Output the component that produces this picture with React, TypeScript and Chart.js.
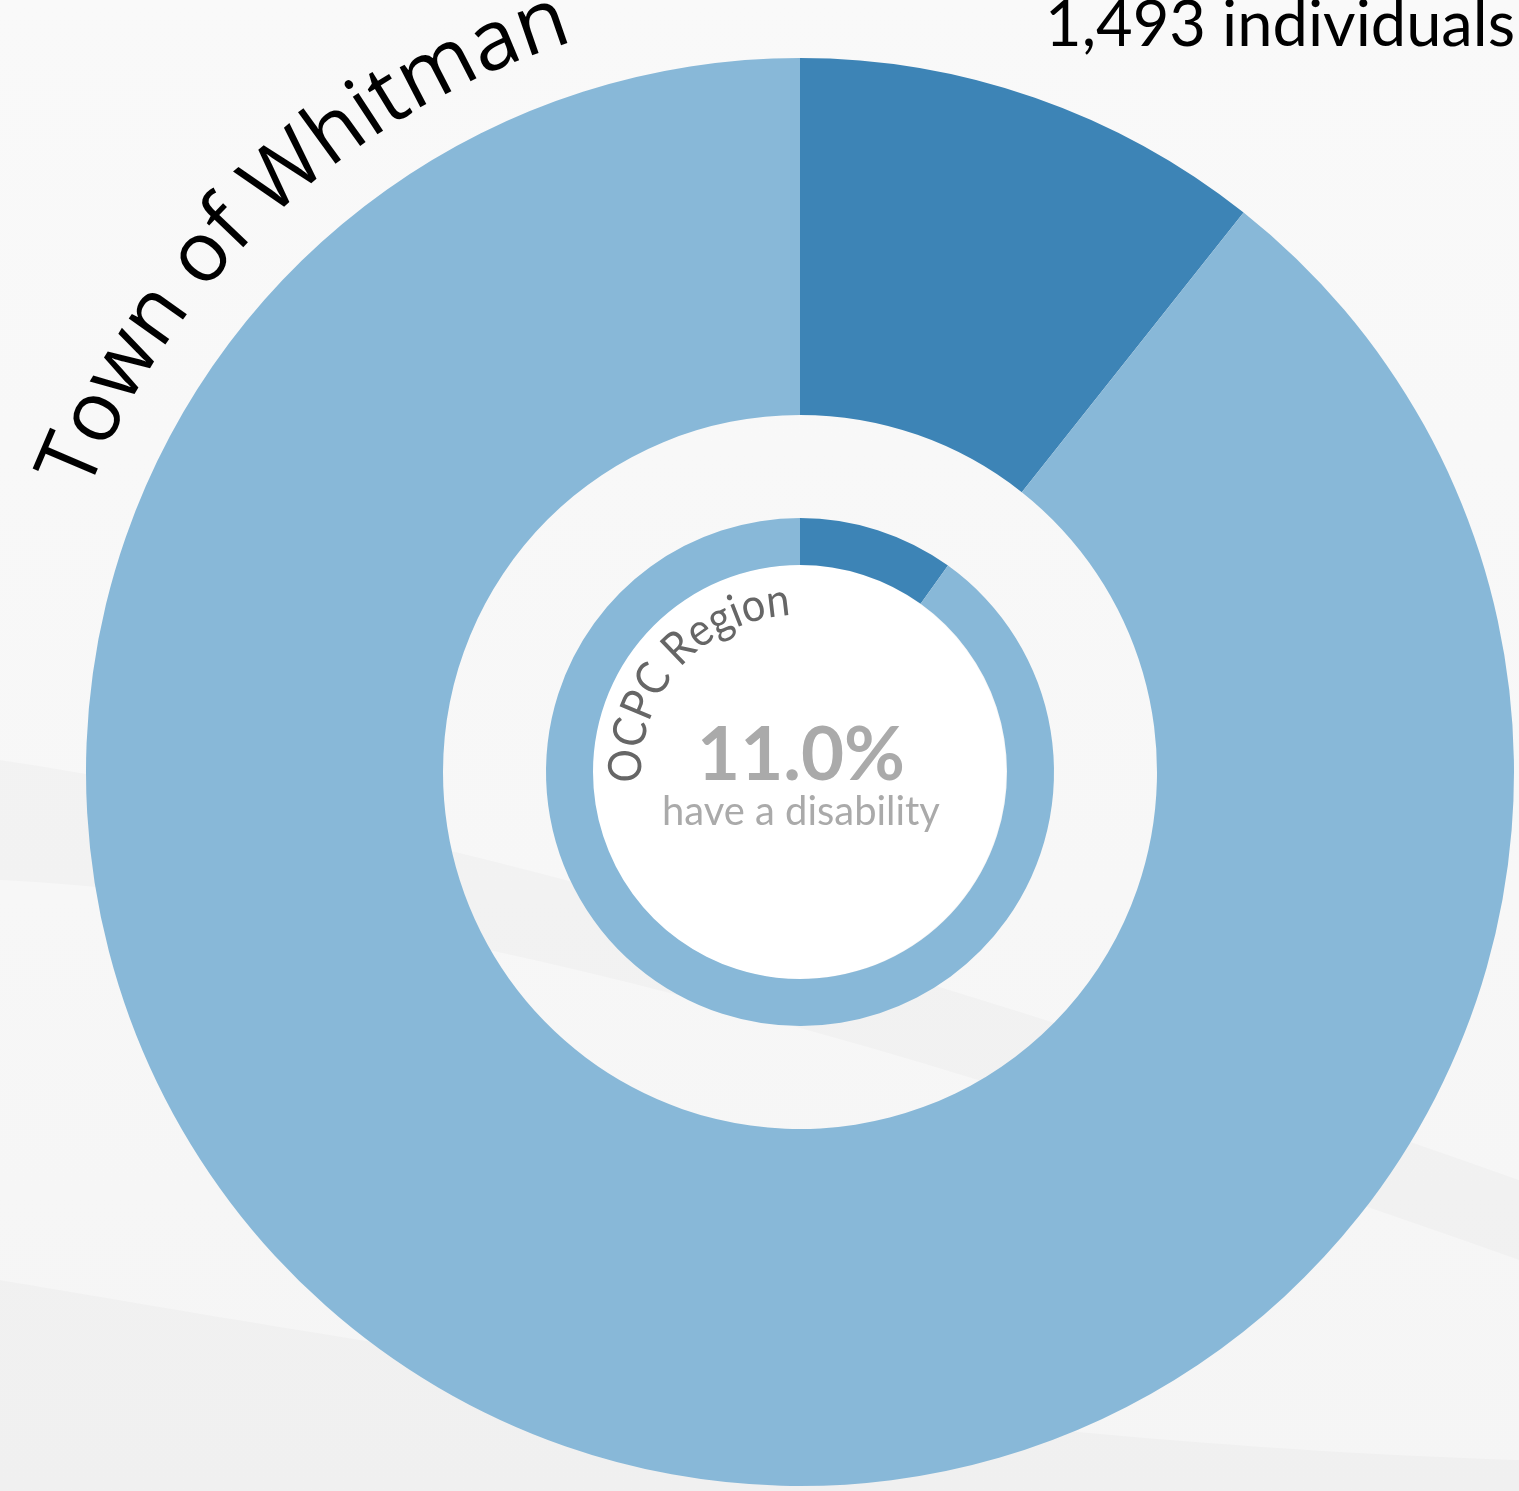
import React, { useEffect, useRef } from "react";
import { Chart, registerables } from "chart.js";

Chart.register(...registerables);

// ---- Data ----
const categories = ["With a disability", "Without a disability"];
const whitmanValues = [1493, 12500]; // Town of Whitman (individuals)
const regionValues = [9.9, 90.1]; // OCPC Region share (%)
const townLabel = "Town of Whitman";
const regionLabel = "OCPC Region";
const townCountLabel = "1,493 individuals";
const regionPctLabel = "11.0%";
const regionSubLabel = "have a disability";

const DARK = "#3d84b6";
const LIGHT = "#88b8d8";

function fitSize(ctx: CanvasRenderingContext2D, text: string, weight: string, family: string, target: number) {
  ctx.font = `${weight} 100px ${family}`;
  const w = ctx.measureText(text).width;
  return (100 * target) / w;
}

function drawArcText(
  ctx: CanvasRenderingContext2D,
  text: string,
  cx: number,
  cy: number,
  r: number,
  startDeg: number,
  endDeg: number,
  size: number,
  weight: string,
  family: string,
  color: string
) {
  const spanLen = (((endDeg - startDeg) * Math.PI) / 180) * r;
  ctx.save();
  ctx.font = `${weight} ${size}px ${family}`;
  const total = ctx.measureText(text).width;
  const sx = spanLen / total;
  ctx.fillStyle = color;
  ctx.textAlign = "center";
  ctx.textBaseline = "alphabetic";
  let acc = 0;
  const start = (startDeg * Math.PI) / 180;
  for (const ch of text) {
    const w = ctx.measureText(ch).width * sx;
    const th = start + (acc + w / 2) / r;
    ctx.save();
    ctx.translate(cx + r * Math.sin(th), cy - r * Math.cos(th));
    ctx.rotate(th);
    ctx.scale(sx, 1);
    ctx.fillText(ch, 0, 0);
    ctx.restore();
    acc += w;
  }
  ctx.restore();
}

const decorPlugin = {
  id: "decor",
  beforeDraw(chart: any) {
    const { ctx, width, height } = chart;
    ctx.save();
    const g = ctx.createLinearGradient(0, 0, 0, height);
    g.addColorStop(0, "#f9f9f9");
    g.addColorStop(0.6, "#f7f7f7");
    g.addColorStop(1, "#f5f5f5");
    ctx.fillStyle = g;
    ctx.fillRect(0, 0, width, height);
    // soft swooshes
    ctx.fillStyle = "rgba(0,0,0,0.018)";
    ctx.beginPath();
    ctx.moveTo(0, 1280);
    ctx.bezierCurveTo(300, 1330, 900, 1440, 1519, 1460);
    ctx.lineTo(1519, 1491);
    ctx.lineTo(0, 1491);
    ctx.closePath();
    ctx.fill();
    ctx.beginPath();
    ctx.moveTo(0, 760);
    ctx.bezierCurveTo(400, 820, 900, 960, 1519, 1180);
    ctx.lineTo(1519, 1260);
    ctx.bezierCurveTo(900, 1040, 400, 900, 0, 880);
    ctx.closePath();
    ctx.fill();
    ctx.restore();
  },
  beforeDatasetsDraw(chart: any) {
    const arc = chart.getDatasetMeta(0).data[0];
    if (!arc) return;
    const { ctx } = chart;
    ctx.save();
    ctx.fillStyle = "#ffffff";
    ctx.beginPath();
    ctx.arc(arc.x - 1, arc.y, 207, 0, Math.PI * 2);
    ctx.fill();
    ctx.restore();
  },
  afterDraw(chart: any) {
    const arc = chart.getDatasetMeta(0).data[0];
    if (!arc) return;
    const { ctx } = chart;
    const cx = arc.x;
    const cy = arc.y;
    drawArcText(ctx, townLabel, cx, cy, 765, -68.6, -17.2, 84, "400", "'Open Sans', sans-serif", "#000000");
    drawArcText(ctx, regionLabel, cx - 2, cy, 157, -94, -3, 46, "400", "Lato, sans-serif", "#666666");

    ctx.save();
    // 1,493 individuals
    let s = fitSize(ctx, townCountLabel, "400", "Lato, sans-serif", 470);
    ctx.font = `400 ${s}px Lato, sans-serif`;
    ctx.fillStyle = "#000000";
    ctx.textAlign = "right";
    ctx.textBaseline = "alphabetic";
    ctx.fillText(townCountLabel, 1515, 46);

    // 11.0%
    s = fitSize(ctx, regionPctLabel, "700", "Lato, sans-serif", 208);
    ctx.font = `700 ${s}px Lato, sans-serif`;
    ctx.fillStyle = "#aaaaaa";
    ctx.textAlign = "center";
    ctx.fillText(regionPctLabel, 801, 780);

    // have a disability
    s = fitSize(ctx, regionSubLabel, "400", "Lato, sans-serif", 278);
    ctx.font = `400 ${s}px Lato, sans-serif`;
    ctx.fillStyle = "#aaaaaa";
    ctx.fillText(regionSubLabel, 801, 825);
    ctx.restore();
  },
};

export default function App() {
  const ref = useRef<HTMLCanvasElement | null>(null);
  useEffect(() => {
    document.body.style.margin = "0";
    const canvas = ref.current;
    if (!canvas) return;
    const chart = new Chart(canvas, {
      type: "doughnut",
      data: {
        labels: categories,
        datasets: [
          {
            label: townLabel,
            data: whitmanValues,
            backgroundColor: [DARK, LIGHT],
            borderWidth: 0,
            hoverOffset: 0,
            offset: 0,
            weight: 357,
          } as any,
          {
            label: "spacer",
            data: [1],
            backgroundColor: ["rgba(0,0,0,0)"],
            borderWidth: 0,
            hoverOffset: 0,
            offset: 0,
            weight: 103,
          } as any,
          {
            label: regionLabel,
            data: regionValues,
            backgroundColor: [DARK, LIGHT],
            borderWidth: 0,
            hoverOffset: 0,
            offset: 0,
            weight: 47,
          } as any,
        ],
      },
      options: {
        responsive: false,
        animation: false,
        events: [],
        cutout: 207,
        layout: { padding: { left: 86, right: 5, top: 58, bottom: 5 } },
        plugins: { legend: { display: false }, tooltip: { enabled: false } },
      } as any,
      plugins: [decorPlugin],
    });
    return () => chart.destroy();
  }, []);
  return <canvas ref={ref} width={1519} height={1491} style={{ display: "block" }} />;
}
